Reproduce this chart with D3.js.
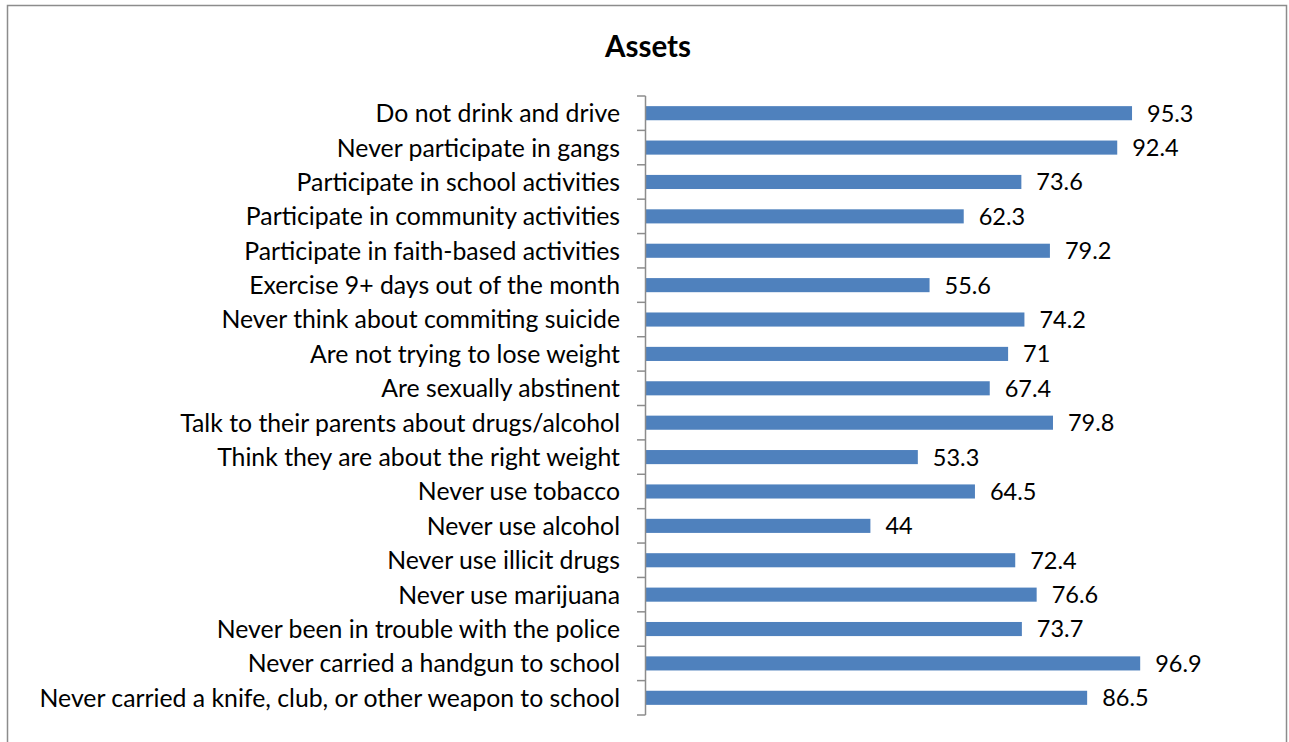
<!DOCTYPE html>
<html>
<head>
<meta charset="utf-8">
<script src="https://cdn.jsdelivr.net/npm/d3@7"></script>
<style>
  body { margin: 0; background: #fff; }
  svg { display: block; }
</style>
</head>
<body>
<svg id="chart"></svg>
<script>
const width = 1289, height = 742;

// categories top to bottom
const categories = [
    "Do not drink and drive",
    "Never participate in gangs",
    "Participate in school activities",
    "Participate in community activities",
    "Participate in faith-based activities",
    "Exercise 9+ days out of the month",
    "Never think about commiting suicide",
    "Are not trying to lose weight",
    "Are sexually abstinent",
    "Talk to their parents about drugs/alcohol",
    "Think they are about the right weight",
    "Never use tobacco",
    "Never use alcohol",
    "Never use illicit drugs",
    "Never use marijuana",
    "Never been in trouble with the police",
    "Never carried a handgun to school",
    "Never carried a knife, club, or other weapon to school",
];

const values = [95.3, 92.4, 73.6, 62.3, 79.2, 55.6, 74.2, 71, 67.4, 79.8, 53.3, 64.5, 44, 72.4, 76.6, 73.7, 96.9, 86.5];

const fontFamily = "Lato, 'Open Sans', sans-serif";

const svg = d3.select("#chart").attr("width", width).attr("height", height);

// outer frame
svg.append("rect")
    .attr("x", 7.5).attr("y", 5.5)
    .attr("width", 1279).attr("height", 760)
    .attr("fill", "#fff")
    .attr("stroke", "#8c8c8c")
    .attr("stroke-width", 1.5);

svg.append("text")
    .attr("x", 648).attr("y", 57)
    .attr("text-anchor", "middle")
    .attr("font-family", fontFamily)
    .attr("font-weight", "bold")
    .attr("font-size", 29.5)
    .text("Assets");

const x = d3.scaleLinear().domain([0, 120]).range([645, 1257]);
const y = d3.scaleBand().domain(categories).range([96, 715]).paddingInner(0.59).paddingOuter(0.295);

const data = categories.map((c, i) => ({ cat: c, val: values[i] }));

svg.append("g")
    .selectAll("rect")
    .data(data)
    .enter()
    .append("rect")
    .attr("x", x(0) + 1)
    .attr("y", d => y(d.cat))
    .attr("width", d => x(d.val) - x(0))
    .attr("height", y.bandwidth())
    .attr("fill", "#4f81bd");

// value labels
svg.append("g")
    .selectAll("text")
    .data(data)
    .enter()
    .append("text")
    .attr("x", d => x(d.val) + 16)
    .attr("y", d => y(d.cat) + y.bandwidth() / 2)
    .attr("dy", "0.36em")
    .attr("font-family", fontFamily)
    .attr("font-size", 23.5)
    .attr("fill", "#000")
    .text(d => d.val);

// axis: vertical line with ticks between categories
const axisG = svg.append("g").attr("stroke", "#8c8c8c").attr("stroke-width", 1.5);
axisG.append("line")
    .attr("x1", 645.5).attr("x2", 645.5)
    .attr("y1", 96).attr("y2", 715);

const tickYs = d3.range(categories.length + 1).map(i => 96 + i * (715 - 96) / categories.length);
axisG.selectAll("line.tick")
    .data(tickYs)
    .enter()
    .append("line")
    .attr("class", "tick")
    .attr("x1", 637).attr("x2", 645.5)
    .attr("y1", d => d).attr("y2", d => d);

// category labels
svg.append("g")
    .selectAll("text")
    .data(categories)
    .enter()
    .append("text")
    .attr("x", 620)
    .attr("y", d => y(d) + y.bandwidth() / 2)
    .attr("dy", "0.36em")
    .attr("text-anchor", "end")
    .attr("font-family", fontFamily)
    .attr("font-size", 24.8)
    .attr("fill", "#000")
    .text(d => d);
</script>
</body>
</html>
